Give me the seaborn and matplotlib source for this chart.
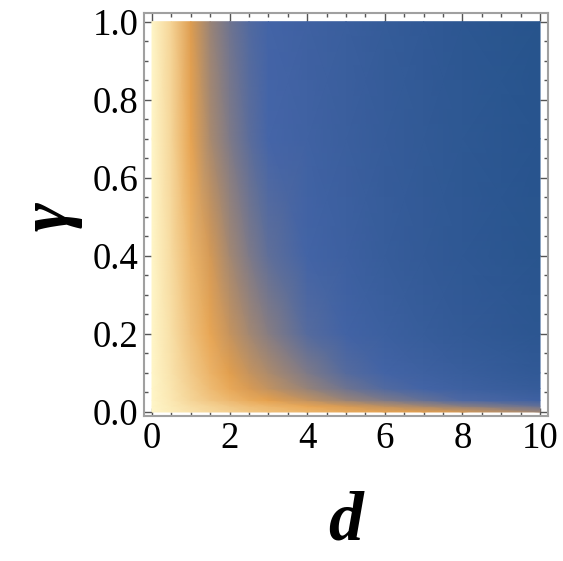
import numpy as np
import seaborn as sns
from matplotlib import pyplot as plt
from matplotlib.ticker import MultipleLocator

# grid (colour level: 1 = pale yellow, 0.67 = orange, 0.33 = blue, 0 = dark blue)
d_vals = [0, 0.5, 1, 1.5, 2, 2.5, 3, 4, 5, 6, 7, 8, 10]
gamma_vals = [0.0, 0.015, 0.03, 0.06, 0.1, 0.2, 0.4, 0.7, 1.0]
level_g000 = [1.0, 0.96, 0.92, 0.88, 0.85, 0.82, 0.79, 0.75, 0.71, 0.68, 0.66, 0.63, 0.52]
level_g015 = [1.0, 0.95, 0.90, 0.86, 0.82, 0.78, 0.75, 0.69, 0.63, 0.58, 0.53, 0.48, 0.40]
level_g030 = [1.0, 0.94, 0.87, 0.81, 0.76, 0.71, 0.67, 0.59, 0.51, 0.45, 0.40, 0.35, 0.27]
level_g060 = [1.0, 0.93, 0.85, 0.77, 0.70, 0.64, 0.59, 0.50, 0.42, 0.36, 0.31, 0.26, 0.18]
level_g100 = [1.0, 0.92, 0.83, 0.74, 0.66, 0.60, 0.55, 0.45, 0.37, 0.31, 0.26, 0.21, 0.13]
level_g200 = [1.0, 0.91, 0.79, 0.69, 0.60, 0.53, 0.47, 0.37, 0.30, 0.24, 0.19, 0.15, 0.08]
level_g400 = [1.0, 0.89, 0.75, 0.63, 0.53, 0.45, 0.39, 0.31, 0.25, 0.19, 0.15, 0.11, 0.05]
level_g700 = [1.0, 0.87, 0.68, 0.54, 0.45, 0.38, 0.33, 0.28, 0.23, 0.18, 0.14, 0.10, 0.04]
level_g1000 = [1.0, 0.86, 0.65, 0.51, 0.42, 0.36, 0.32, 0.27, 0.22, 0.17, 0.13, 0.09, 0.03]

levels = np.array([level_g000, level_g015, level_g030, level_g060, level_g100,
                   level_g200, level_g400, level_g700, level_g1000])

sns.set_style('white')
plt.rcParams['font.family'] = ['Liberation Serif', 'DejaVu Serif']

cmap = sns.blend_palette(['#24528a', '#4565a8', '#e6a04c', '#fff6c8'], as_cmap=True)

fig = plt.figure(figsize=(5.63, 5.61), dpi=100)
ax = fig.add_axes([0.2558, 0.259, 0.7167, 0.7173])
ax.pcolormesh(d_vals, gamma_vals, levels, cmap=cmap, vmin=0, vmax=1, shading='gouraud')
ax.set_xlim(-0.206, 10.193)
ax.set_ylim(-0.0095, 1.0215)

ax.xaxis.set_major_locator(MultipleLocator(2))
ax.xaxis.set_minor_locator(MultipleLocator(0.5))
ax.yaxis.set_major_locator(MultipleLocator(0.2))
ax.yaxis.set_minor_locator(MultipleLocator(0.05))
ax.xaxis.set_major_formatter(lambda v, p: f'{v:.0f}')
ax.yaxis.set_major_formatter(lambda v, p: f'{v:.1f}')
ax.tick_params(which='both', direction='in', top=True, right=True, bottom=True, left=True,
               colors='#555555', labelcolor='black', labelsize=26.5, width=1.0)
ax.tick_params(which='major', length=6, pad=4)
ax.tick_params(which='minor', length=3)
for s in ax.spines.values():
    s.set_color('#a0a0a0')
    s.set_linewidth(1.5)

ax.set_xlabel('d', fontsize=50, fontweight='bold', fontstyle='italic', color='black')
ax.xaxis.set_label_coords(0.5, -0.265)
ax.xaxis.label.set_va('center')
ax.set_ylabel('γ', fontsize=50, fontweight='bold', fontstyle='italic', color='black')
ax.yaxis.set_label_coords(-0.232, 0.494)
ax.yaxis.label.set_va('center')

fig.savefig('out.png', dpi=100)
